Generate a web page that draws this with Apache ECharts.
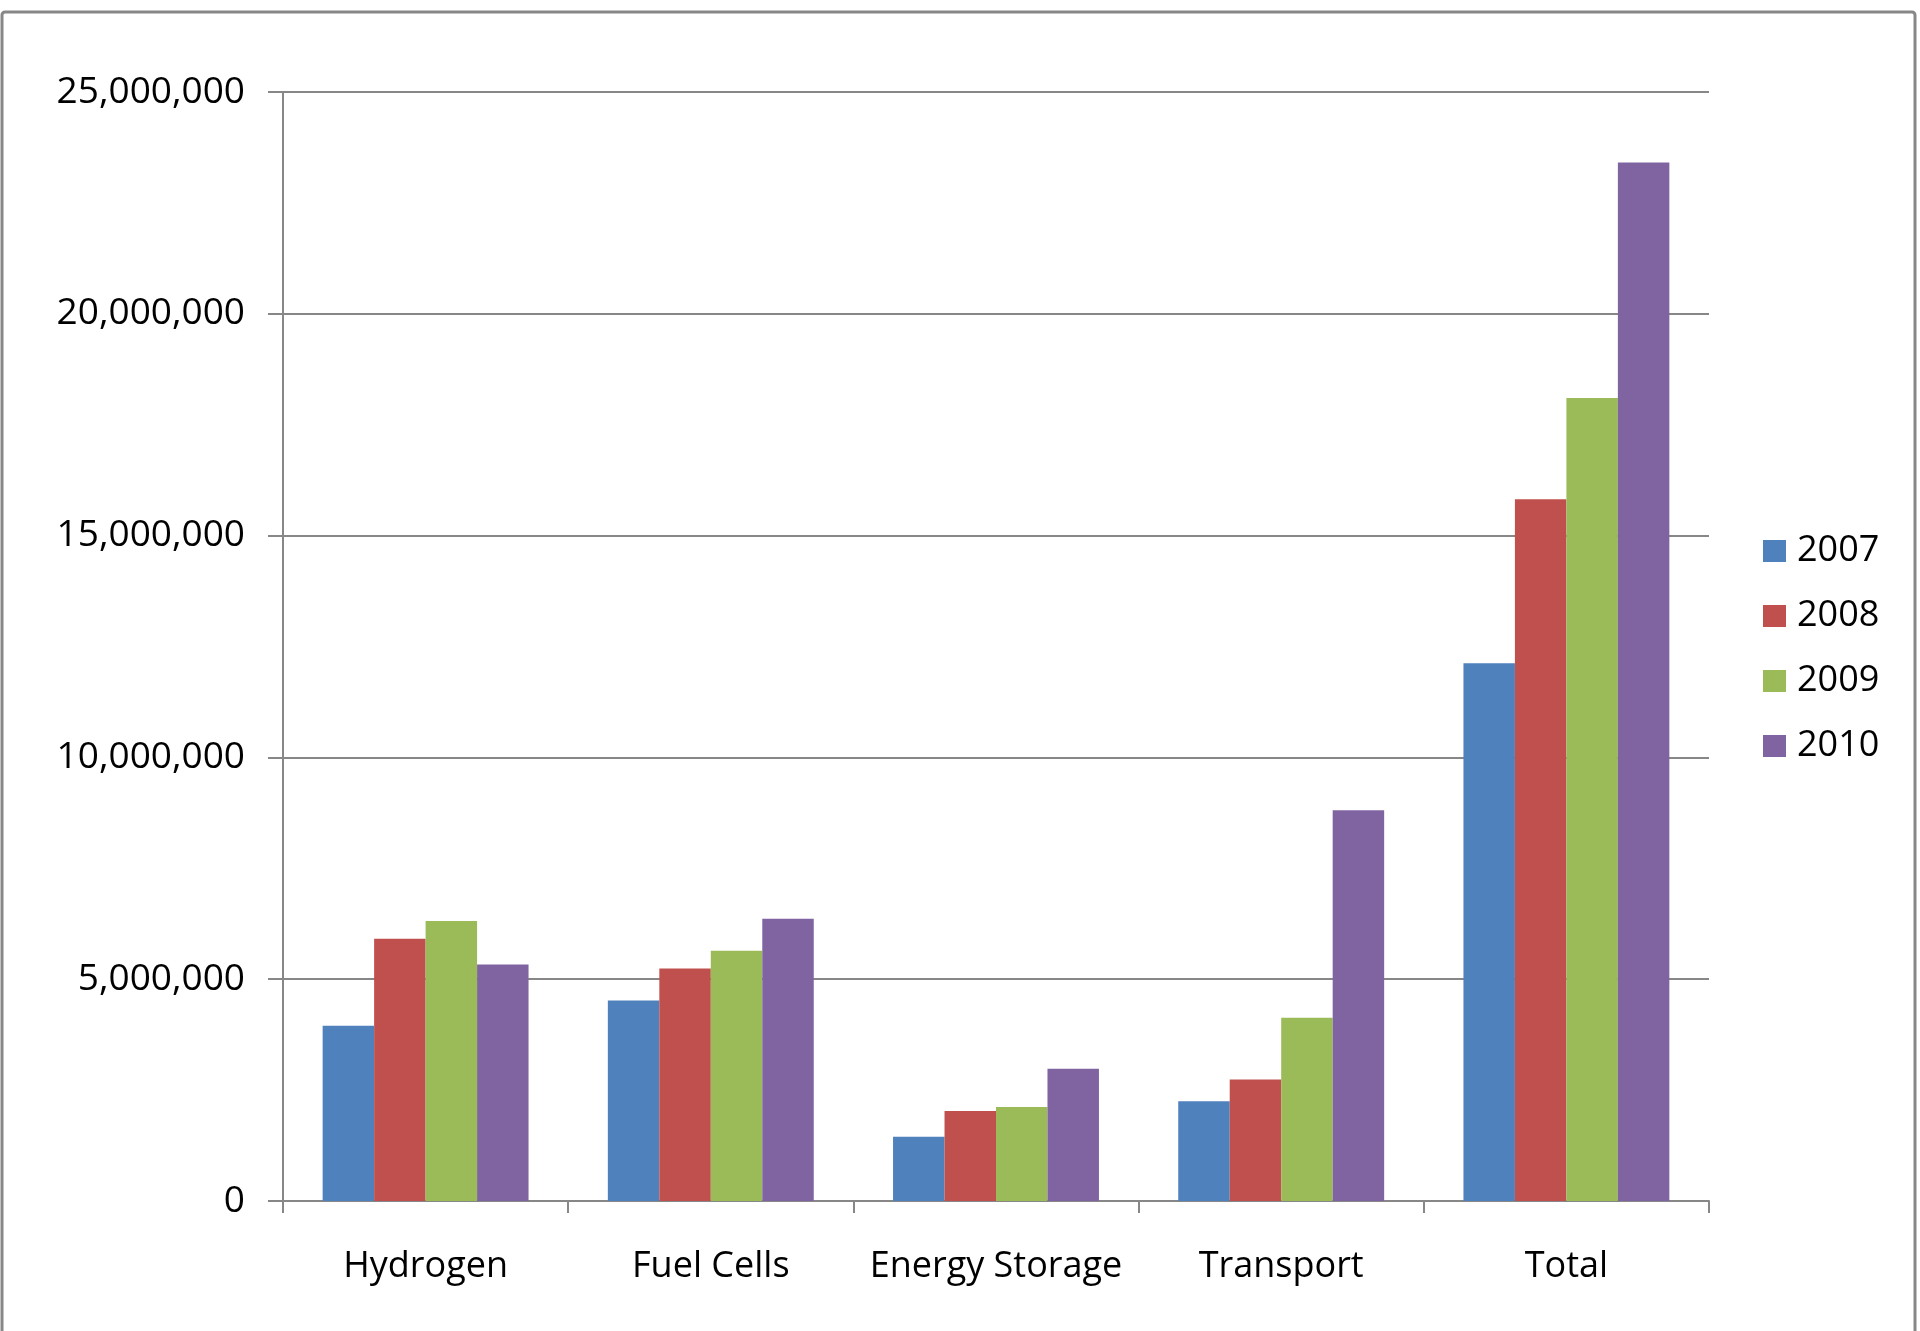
<!DOCTYPE html>
<html>
<head>
<meta charset="utf-8">
<script src="https://cdn.jsdelivr.net/npm/echarts@6/dist/echarts.min.js"></script>
<style>
  html, body { margin: 0; padding: 0; background: #ffffff; }
  #chart { width: 1920px; height: 1331px; }
</style>
</head>
<body>
<div id="chart"></div>
<script>
// Categories along the x axis
const categories = ['Hydrogen', 'Fuel Cells', 'Energy Storage', 'Transport', 'Total'];

// Yearly values per category
const years = ['2007', '2008', '2009', '2010'];
const values2007 = [3950000, 4520000, 1450000, 2250000, 12120000];
const values2008 = [5910000, 5240000, 2030000, 2740000, 15820000];
const values2009 = [6310000, 5640000, 2120000, 4130000, 18100000];
const values2010 = [5330000, 6360000, 2980000, 8810000, 23410000];

// Value axis ticks
const yMin = 0;
const yMax = 25000000;
const yStep = 5000000;

const seriesValues = [values2007, values2008, values2009, values2010];
const colors = ['#4F81BD', '#C0504D', '#9BBB59', '#8064A2'];

const FONT = '"Open Sans", "Liberation Sans", sans-serif';
const LINE = '#878787';

const chart = echarts.init(document.getElementById('chart'), null, { renderer: 'canvas' });

chart.setOption({
  backgroundColor: '#ffffff',
  animation: false,
  textStyle: { fontFamily: FONT },
  graphic: [{
    type: 'rect',
    shape: { x: 2, y: 12, width: 1913, height: 1340, r: 3 },
    style: { fill: 'none', stroke: LINE, lineWidth: 3 },
    z: 0
  }],
  grid: { left: 283, right: 211, top: 92, bottom: 130 },
  legend: {
    orient: 'vertical',
    left: 1758,
    top: 528,
    icon: 'rect',
    itemWidth: 23,
    itemHeight: 22,
    itemGap: 29,
    data: years,
    textStyle: { fontFamily: FONT, fontSize: 36, color: '#000', padding: [0, 0, 0, 6] }
  },
  xAxis: {
    type: 'category',
    data: categories,
    boundaryGap: true,
    axisLine: { show: true, lineStyle: { color: LINE, width: 2 } },
    axisTick: { show: true, length: 12, alignWithLabel: false, lineStyle: { color: LINE, width: 2 } },
    axisLabel: { fontFamily: FONT, fontSize: 36, color: '#000', margin: 48, interval: 0 },
    splitLine: { show: false }
  },
  yAxis: {
    type: 'value',
    min: yMin,
    max: yMax,
    interval: yStep,
    axisLine: { show: true, lineStyle: { color: LINE, width: 2 } },
    axisTick: { show: true, length: 15, lineStyle: { color: LINE, width: 2 } },
    axisLabel: {
      fontFamily: FONT, fontSize: 37, color: '#000', margin: 38,
      formatter: v => v.toLocaleString('en-US')
    },
    splitLine: { show: true, lineStyle: { color: LINE, width: 2 } }
  },
  series: years.map((y, i) => ({
    name: y,
    type: 'bar',
    data: seriesValues[i],
    barGap: '0%',
    barCategoryGap: '27.8%',
    itemStyle: { color: colors[i] }
  }))
});
</script>
</body>
</html>
